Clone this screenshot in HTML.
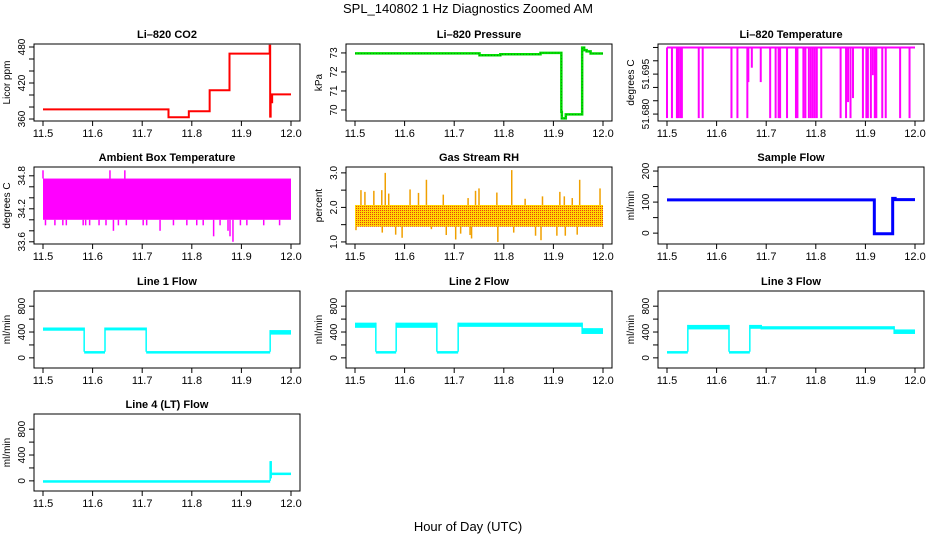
<!DOCTYPE html>
<html><head><meta charset="utf-8"><style>
body{margin:0;background:#fff}
svg{display:block;font-family:"Liberation Sans",sans-serif}
</style></head><body>
<svg id="c" width="936" height="540" viewBox="0 0 936 540">
<defs>
<pattern id="rhpat" width="2" height="2" patternUnits="userSpaceOnUse">
<rect width="2" height="2" fill="#ffd800"/><rect width="1" height="1" fill="#e84010"/>
</pattern>
</defs>
<text x="468" y="13" text-anchor="middle" font-size="13">SPL_140802  1 Hz Diagnostics Zoomed AM</text>
<text x="468" y="531" text-anchor="middle" font-size="13">Hour of Day (UTC)</text>
</svg>
<script>
// ---- data ----
const xTicks = [11.5, 11.6, 11.7, 11.8, 11.9, 12.0];
const xTickLabels = ["11.5", "11.6", "11.7", "11.8", "11.9", "12.0"];
const co2Steps = [[11.5,11.753,376],[11.753,11.794,363],[11.794,11.836,373],[11.836,11.876,408],[11.876,11.957,469],[11.957,11.958,482],[11.958,11.959,364],[11.959,11.962,388],[11.962,12.0,401]];
const pressureSteps = [[11.5,11.751,72.98],[11.751,11.793,72.88],[11.793,11.874,72.93],[11.874,11.916,73.0],[11.916,11.917,69.9],[11.917,11.925,69.56],[11.925,11.958,69.77],[11.958,11.962,73.28],[11.962,11.967,73.15],[11.967,11.975,73.08],[11.975,12.0,72.97]];
const liTempBase = 51.705;
const liTempSpikeX = [11.500,11.510,11.520,11.523,11.527,11.530,11.564,11.572,11.630,11.642,11.662,11.664,11.671,11.689,11.708,11.719,11.725,11.728,11.742,11.760,11.763,11.775,11.779,11.786,11.790,11.794,11.798,11.802,11.811,11.850,11.861,11.865,11.870,11.875,11.895,11.902,11.905,11.911,11.915,11.919,11.922,11.934,11.941,11.970,11.989];
const liTempSpikeV = [51.6785,51.6785,51.6785,51.6785,51.6785,51.6785,51.6785,51.6785,51.6785,51.6785,51.6785,51.692,51.6974,51.692,51.6785,51.6785,51.6785,51.6785,51.6785,51.6785,51.6785,51.6785,51.6785,51.6785,51.6785,51.6785,51.6785,51.6785,51.6785,51.6785,51.6785,51.6845,51.6785,51.686,51.6785,51.6785,51.6785,51.6785,51.6946,51.6785,51.6785,51.6785,51.6785,51.6785,51.6785];
const ambCore = [34.0, 34.75];
const ambDownX = [11.505,11.524,11.540,11.547,11.581,11.586,11.594,11.613,11.627,11.642,11.652,11.668,11.702,11.709,11.736,11.763,11.790,11.810,11.823,11.844,11.857,11.873,11.877,11.883,11.898,11.911,11.945,11.977];
const ambDownV = [33.9,33.9,33.9,33.9,33.9,33.9,33.9,33.9,33.9,33.8,33.9,33.9,33.9,33.9,33.8,33.9,33.9,33.9,33.9,33.7,33.9,33.8,33.7,33.6,33.9,33.9,33.9,33.9];
const ambUpX = [11.500,11.635,11.665];
const ambUpV = [34.9,34.9,34.9];
const rhCore = [1.44, 2.07];
const rhUpX = [11.512,11.520,11.538,11.554,11.561,11.568,11.611,11.628,11.644,11.678,11.728,11.743,11.750,11.786,11.816,11.843,11.878,11.913,11.922,11.938,11.953,11.994];
const rhUpV = [2.5,2.45,2.48,2.5,3.0,2.4,2.52,2.42,2.8,2.37,2.27,2.48,2.55,2.43,3.08,2.25,2.32,2.45,2.32,2.27,2.8,2.55];
const rhDownX = [11.502,11.555,11.582,11.595,11.654,11.684,11.703,11.713,11.732,11.735,11.788,11.820,11.864,11.875,11.907,11.924,11.948];
const rhDownV = [1.34,1.27,1.21,1.12,1.37,1.2,1.07,1.24,1.2,1.1,1.0,1.27,1.18,1.05,1.18,1.18,1.21];
const sampleSteps = [[11.5,11.918,107],[11.918,11.955,-2],[11.955,11.96,112],[11.96,12.0,108]];
const line1Bands = [[11.5,11.583,420,470],[11.583,11.625,95,105],[11.625,11.708,425,470],[11.708,11.958,95,105],[11.958,12.0,360,430]];
const line2Bands = [[11.5,11.542,465,545],[11.542,11.583,95,105],[11.583,11.665,465,545],[11.665,11.708,95,105],[11.708,11.958,480,545],[11.958,12.0,370,460]];
const line3Bands = [[11.5,11.542,95,105],[11.542,11.625,440,510],[11.625,11.667,95,105],[11.667,11.69,450,510],[11.69,11.958,440,490],[11.958,12.0,370,440]];
const line4Bands = [[11.5,11.958,0,10],[11.958,11.960,40,305],[11.960,12.0,112,128]];

// ---- layout ----
const NS = "http://www.w3.org/2000/svg";
const svg = document.getElementById('c');
const colL = [34, 346, 658], W = 266;
const rowT = [44, 167, 291, 414], H = 77;
function el(tag, attrs, parent){ const e=document.createElementNS(NS,tag); for(const k in attrs) e.setAttribute(k,attrs[k]); (parent||svg).appendChild(e); return e; }

function panel(name, col, row, ylim, yticks, ylabels, ylab, title){
  const L = colL[col], T = rowT[row];
  const g = el('g', {});
  
  
  const sx = v => L + 9 + (v - 11.5) / 0.5 * (W - 18);
  const sy = v => T + H - (v - ylim[0]) / (ylim[1] - ylim[0]) * H;
  const t = el('text', {x: L + W/2, y: T - 6, 'text-anchor':'middle', 'font-size':11, 'font-weight':'bold'}, g);
  t.textContent = title;
  
  
  const ax = el('g', {stroke:'#000','stroke-width':1}, g);
  
  
  xTicks.forEach((v,i)=>{
    const x = sx(v);
    el('line',{x1:x,x2:x,y1:T+H,y2:T+H+5},ax);
    const lt = el('text',{x:x,y:T+H+16,'text-anchor':'middle','font-size':11,stroke:'none'},ax);
    lt.textContent = xTickLabels[i];
  });
  const ay = el('g', {stroke:'#000','stroke-width':1}, g);
  
  
  yticks.forEach((v,i)=>{
    const y = sy(v);
    el('line',{x1:L-5,x2:L,y1:y,y2:y},ay);
    if (ylabels[i]) {
      const lt = el('text',{x:L-9,y:y,'text-anchor':'middle','font-size':10,stroke:'none',transform:`rotate(-90 ${L-9} ${y})`},ay);
      lt.textContent = ylabels[i];
    }
  });
  const yl = el('text',{x:L-24,y:T+H/2,'text-anchor':'middle','font-size':10,transform:`rotate(-90 ${L-24} ${T+H/2})`},g);
  yl.textContent = ylab;
  
  
  const plot = el('g', {}, g);
  
  
  const box = el('rect',{x:L,y:T,width:W,height:H,fill:'none',stroke:'#000','stroke-width':1},g);
  
  
  return {sx, sy, plot};
}
function stepPath(p, steps){
  let d = '';
  steps.forEach((s,i)=>{ d += (i? 'L':'M') + p.sx(s[0]) + ',' + p.sy(s[2]) + 'L' + p.sx(s[1]) + ',' + p.sy(s[2]); });
  return d;
}
function bands(p, arr, color){
  arr.forEach(b=>{
    const r = el('rect',{x:p.sx(b[0]),y:p.sy(b[3]),width:Math.max(1.5,p.sx(b[1])-p.sx(b[0])),height:Math.max(2.5,p.sy(b[2])-p.sy(b[3])),fill:color},p.plot);
    
    
  });
  for(let i=1;i<arr.length;i++){
    const x=p.sx(arr[i][0]);
    const ys=[arr[i-1][2],arr[i-1][3],arr[i][2],arr[i][3]].map(p.sy);
    el('line',{x1:x,x2:x,y1:Math.min(...ys),y2:Math.max(...ys),stroke:color,'stroke-width':1.5},p.plot);
  }
}
function spikes(p, xs, vs, base, color, w){
  xs.forEach((x,i)=>{
    const l = el('line',{x1:p.sx(x),x2:p.sx(x),y1:p.sy(base),y2:p.sy(vs[i]),stroke:color,'stroke-width':w},p.plot);
    
    
  });
}

// CO2
let p = panel('co2',0,0,[356.7,485],[360,380,400,420,440,460,480],["360","","","420","","","480"],'Licor ppm','Li–820 CO2');
el('path',{d:stepPath(p,co2Steps),fill:'none',stroke:'#ff0000','stroke-width':2},p.plot);
// Pressure
p = panel('pressure',1,0,[69.42,73.47],[70,71,72,73],["70","71","72","73"],'kPa','Li–820 Pressure');
el('path',{d:stepPath(p,pressureSteps),fill:'none',stroke:'#00e000','stroke-width':2.5},p.plot);
el('path',{d:stepPath(p,pressureSteps),fill:'none',stroke:'#104010','stroke-width':0.7,'stroke-dasharray':'0.7 2.3'},p.plot);
// Li-820 temperature
p = panel('li-temp',2,0,[51.6774,51.7063],[51.680,51.685,51.690,51.695,51.700,51.705],["51.680","","","51.695","",""],'degrees C','Li–820 Temperature');
el('line',{x1:p.sx(11.5),x2:p.sx(12.0),y1:p.sy(liTempBase),y2:p.sy(liTempBase),stroke:'#ff00ff','stroke-width':2},p.plot);
spikes(p, liTempSpikeX, liTempSpikeV, liTempBase, '#ff00ff', 2);
// Ambient
p = panel('ambient',0,1,[33.56,34.96],[33.6,33.8,34.0,34.2,34.4,34.6,34.8],["33.6","","","34.2","","","34.8"],'degrees C','Ambient Box Temperature');
el('rect',{x:p.sx(11.5),y:p.sy(ambCore[1]),width:p.sx(12)-p.sx(11.5),height:p.sy(ambCore[0])-p.sy(ambCore[1]),fill:'#ff00ff'},p.plot);
spikes(p, ambDownX, ambDownV, ambCore[0], '#ff00ff', 1.5);
spikes(p, ambUpX, ambUpV, ambCore[1], '#ff00ff', 1.5);
// RH
p = panel('rh',1,1,[0.94,3.17],[1.0,1.5,2.0,2.5,3.0],["1.0","","2.0","","3.0"],'percent','Gas Stream RH');
el('rect',{x:p.sx(11.5),y:p.sy(rhCore[1]),width:p.sx(12)-p.sx(11.5),height:p.sy(rhCore[0])-p.sy(rhCore[1]),fill:'url(#rhpat)'},p.plot);
spikes(p, rhUpX, rhUpV, rhCore[1], '#f0a000', 1.5);
spikes(p, rhDownX, rhDownV, rhCore[0], '#f0a000', 1.5);
// Sample flow
p = panel('sample-flow',2,1,[-35,213],[0,50,100,150,200],["0","","100","","200"],'ml/min','Sample Flow');
el('path',{d:stepPath(p,sampleSteps),fill:'none',stroke:'#0000ff','stroke-width':3},p.plot);
// Line flows
const fy=[0,200,400,600,800], fl=["0","","400","","800"];
p = panel('line1-flow',0,2,[-157,1035],fy,fl,'ml/min','Line 1 Flow'); bands(p,line1Bands,'#00ffff');
p = panel('line2-flow',1,2,[-157,1035],fy,fl,'ml/min','Line 2 Flow'); bands(p,line2Bands,'#00ffff');
p = panel('line3-flow',2,2,[-157,1035],fy,fl,'ml/min','Line 3 Flow'); bands(p,line3Bands,'#00ffff');
p = panel('line4-flow',0,3,[-157,1035],fy,fl,'ml/min','Line 4 (LT) Flow'); bands(p,line4Bands,'#00ffff');
</script>
</body></html>
